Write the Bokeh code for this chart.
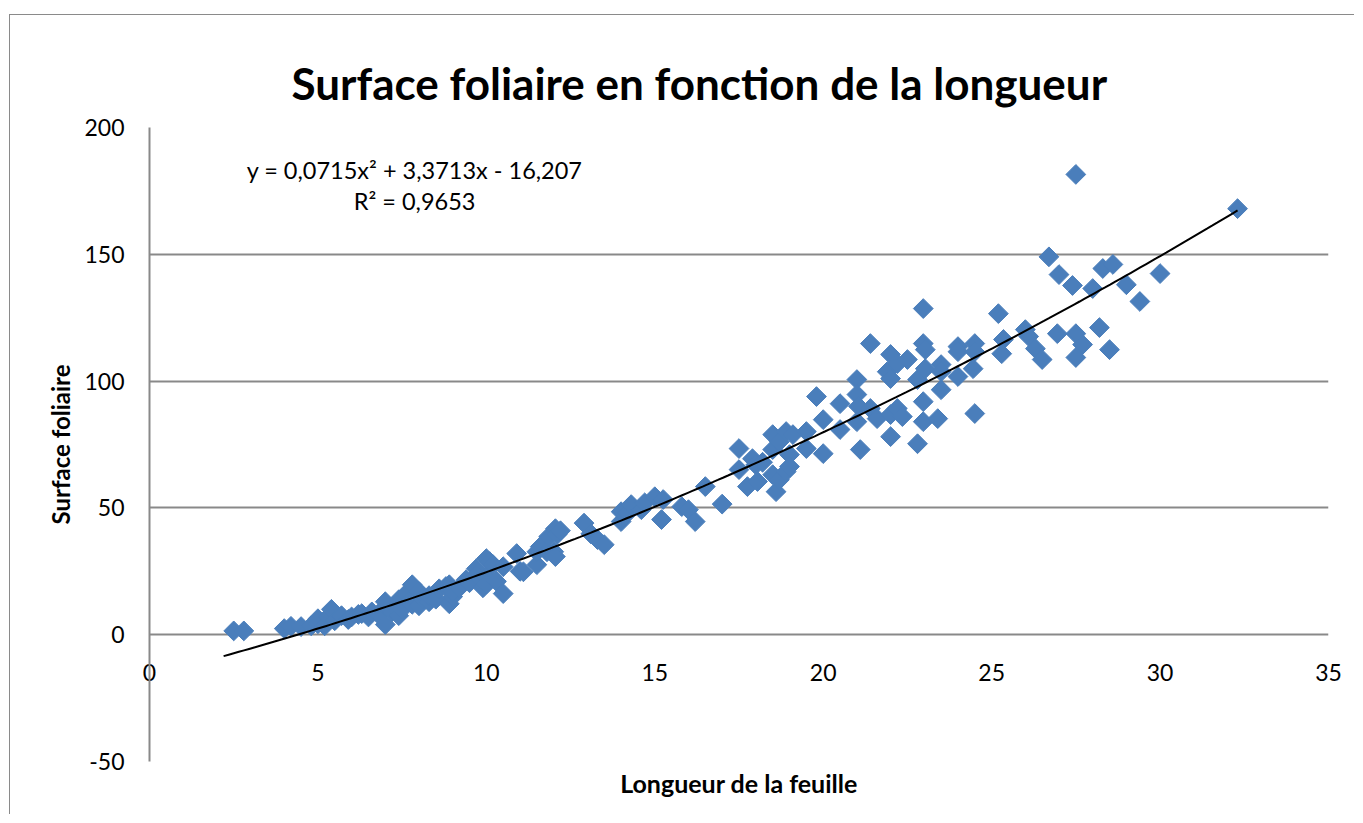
import numpy as np
from bokeh.plotting import figure
from bokeh.models import LinearAxis, Label, FixedTicker, Range1d
from bokeh.embed import file_html
from bokeh.resources import INLINE

# ---------------- data ----------------
longueur = [
    2.5, 2.8, 4.0, 4.2, 4.5, 4.8, 5.0, 5.0, 5.2, 5.3, 5.4, 5.5, 5.7, 5.9, 6.0, 6.2, 6.3, 6.5, 6.6, 6.8,
    7.0, 7.0, 7.0, 7.2, 7.4, 7.4, 7.5, 7.6, 7.7, 7.8, 7.8, 8.0, 8.0, 8.1, 8.3, 8.3, 8.5, 8.6, 8.8, 8.9,
    8.9, 9.0, 9.0,
    9.2, 9.4, 9.5, 9.7, 9.7, 9.9, 10.0, 10.0, 10.0, 10.1, 10.2, 10.3, 10.5, 10.5, 10.9, 11.0, 11.1, 11.5,
    11.5, 11.6, 11.8, 11.85, 12.0, 12.05, 12.05, 12.1, 12.2, 12.9, 13.1, 13.3, 13.5,
    14.0, 14.0, 14.2, 14.3, 14.6, 14.7, 15.0, 15.2, 15.25, 15.8, 16.0, 16.2, 16.5, 17.0,
    17.5, 17.5, 17.75, 17.9, 18.05, 18.0, 18.2, 18.5, 18.5, 18.5, 18.6, 18.7, 18.7, 18.9, 18.9, 19.0,
    19.0, 19.1, 19.5, 19.5, 19.8, 20.0, 20.0, 20.5, 20.5,
    21.0, 21.0, 21.05, 21.0, 21.1, 21.4, 21.4, 21.6, 21.9, 22.0, 22.0, 22.0, 22.0, 22.2, 22.2, 22.35,
    22.5, 22.8, 22.8, 22.97, 22.97, 23.03, 23.03, 22.97, 22.97, 23.4, 23.5, 23.5, 23.5, 24.0, 24.0, 24.0,
    24.45, 24.5, 24.5, 24.5, 25.2, 25.35, 25.3, 26.0, 26.1, 26.3, 26.5, 26.7, 26.95, 27.0, 27.4, 27.5,
    27.5, 27.7, 27.5, 28.0, 28.2, 28.3, 28.5, 28.6, 29.0, 29.4, 30.0, 32.3,
]
surface = [
    1.5, 1.5, 2.4, 3.3, 3.2, 3.5, 4.3, 6.3, 3.5, 7.0, 10.0, 5.5, 7.5, 6.0, 7.0, 8.0, 8.3, 7.0, 9.0, 8.0,
    4.0, 11.0, 13.0, 9.0, 7.5, 13.8, 10.0, 16.0, 13.0, 19.7, 12.0, 11.4, 17.0, 14.0, 13.0, 15.4, 14.0, 18.1, 19.0, 12.2,
    19.7, 15.0, 17.0,
    18.5, 21.7, 20.5, 26.0, 23.5, 18.5, 22.9, 30.0, 20.0, 28.8, 27.6, 21.0, 16.2, 26.8, 32.0, 25.0, 24.8, 27.6,
    32.7, 34.7, 32.7, 38.7, 32.7, 30.8, 41.8, 39.5, 41.0, 44.0, 39.8, 37.5, 35.5,
    44.6, 48.5, 48.0, 51.3, 49.3, 52.0, 54.4, 45.4, 53.3, 50.5, 49.3, 44.6, 58.4, 51.5,
    73.4, 65.1, 58.4, 69.4, 60.4, 67.0, 68.0, 78.9, 73.0, 63.1, 56.4, 76.1, 61.1, 80.1, 64.3, 71.0,
    66.3, 78.9, 80.1, 73.4, 93.9, 84.8, 71.4, 91.1, 80.9,
    100.6, 94.7, 90.0, 84.0, 73.0, 114.8, 89.2, 85.2, 103.7, 110.5, 101.0, 86.8, 78.1, 106.9, 89.2, 86.0,
    108.5, 100.6, 75.3, 128.6, 114.8, 112.4, 104.9, 91.9, 84.0, 85.2, 106.5, 103.7, 96.6, 113.6, 111.6, 101.8,
    104.9, 114.8, 111.6, 87.2, 126.6, 116.4, 110.8, 120.3, 117.6, 112.8, 108.5, 149.0, 118.7, 142.0, 137.7, 181.5,
    118.7, 114.4, 109.3, 136.5, 121.1, 144.4, 112.4, 146.0, 138.0, 131.4, 142.4, 168.0,
]
x_ticks = [0, 5, 10, 15, 20, 25, 30, 35]
y_ticks = [-50, 0, 50, 100, 150, 200]
trend_coef = [0.0715, 3.3713, -16.207]   # from the trendline equation
trend_x_span = [2.2, 32.3]
title_text = "Surface foliaire en fonction de la longueur"
x_title = "Longueur de la feuille"
y_title = "Surface foliaire"
eq_text = "y = 0,0715x² + 3,3713x - 16,207"
r2_text = "R² = 0,9653"

# ---------------- figure ----------------
FONT = "Lato"
GRID = "#898989"
TICK_SIZE = "23px"

p = figure(width=1345, height=800, x_range=Range1d(0, 35), y_range=Range1d(-50, 200),
           output_backend="svg", toolbar_location=None,
           min_border_left=139, min_border_right=27, min_border_top=112, min_border_bottom=54)
p.margin = (14, 0, 0, 9)
p.styles = {"border-left": "1px solid #8a8a8a", "border-top": "1px solid #8a8a8a"}
p.outline_line_color = None
p.background_fill_color = "white"
p.border_fill_color = "white"

p.title.text = title_text
p.title.align = "left"
p.title.offset = 142
p.title.text_font = FONT
p.title.text_font_style = "bold"
p.title.text_font_size = "44px"
p.title.text_color = "black"
p.title.standoff = 38

# bottom axis: tick labels pulled up to sit under the y = 0 line (Excel style)
xa = p.xaxis[0]
xa.ticker = FixedTicker(ticks=x_ticks)
xa.axis_line_color = None
xa.major_tick_line_color = None
xa.minor_tick_line_color = None
xa.major_label_text_font = FONT
xa.major_label_text_font_size = TICK_SIZE
xa.major_label_text_color = "black"
xa.major_label_standoff = -104

# second bottom axis: carries only the axis title
xt = LinearAxis(axis_label=x_title, ticker=FixedTicker(ticks=[]),
                axis_line_color=None, major_tick_line_color=None, minor_tick_line_color=None,
                axis_label_text_font=FONT, axis_label_text_font_style="bold",
                axis_label_text_font_size="25px", axis_label_text_color="black",
                axis_label_standoff=6)
p.add_layout(xt, "below")

ya = p.yaxis[0]
ya.ticker = FixedTicker(ticks=y_ticks)
ya.major_label_overrides = {t: str(t) for t in y_ticks}
ya.axis_line_color = GRID
ya.axis_line_width = 2
ya.major_tick_line_color = None
ya.minor_tick_line_color = None
ya.major_label_text_font = FONT
ya.major_label_text_font_size = TICK_SIZE
ya.major_label_text_color = "black"
ya.major_label_standoff = 19
ya.axis_label = y_title
ya.axis_label_text_font = FONT
ya.axis_label_text_font_style = "bold"
ya.axis_label_text_font_size = "24px"
ya.axis_label_text_color = "black"
ya.axis_label_standoff = 6

p.xgrid.visible = False
p.ygrid.ticker = FixedTicker(ticks=y_ticks)
p.ygrid.grid_line_color = GRID
p.ygrid.grid_line_width = 2

p.scatter(longueur, surface, marker="square", angle=np.pi / 4, size=14,
          fill_color="#4a7ebb", line_color="#4a7ebb", line_width=1)

tx = np.linspace(trend_x_span[0], trend_x_span[1], 200)
ty = np.polyval(trend_coef, tx)
p.line(tx, ty, line_color="black", line_width=2)

p.add_layout(Label(x=7.87, y=183.4, text=eq_text, text_align="center", text_baseline="middle",
                   text_font=FONT, text_font_size="23.5px", text_color="black"))
p.add_layout(Label(x=7.87, y=171.2, text=r2_text, text_align="center", text_baseline="middle",
                   text_font=FONT, text_font_size="23.5px", text_color="black"))

open("out.html", "w").write(file_html(p, INLINE))
